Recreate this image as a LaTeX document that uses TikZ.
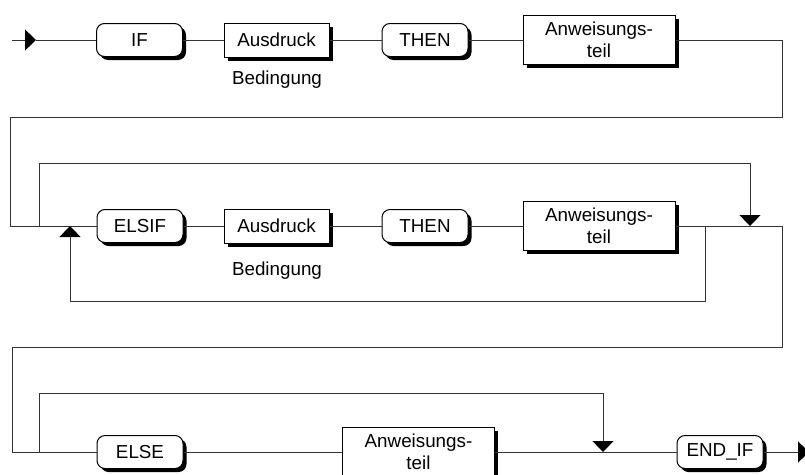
\documentclass[tikz,border=0pt]{standalone}
\usepackage{fontspec}
\setmainfont{Liberation Sans}
\usetikzlibrary{arrows.meta,shadows}
\begin{document}
\begin{tikzpicture}[x=1pt,y=-1pt,line width=1pt,
  font=\fontsize{18.8}{22}\selectfont,
  boxshadow/.style={drop shadow={shadow xshift=3.5pt,shadow yshift=-3.5pt,opacity=1,fill=black}},
  keyword/.style={draw,fill=white,rounded corners=8pt,minimum width=86pt,minimum height=33pt,inner sep=0pt,boxshadow},
  term/.style={draw,fill=white,minimum width=105pt,minimum height=34pt,inner sep=0pt,boxshadow},
  part/.style={draw,fill=white,align=center,minimum width=152pt,minimum height=49pt,inner sep=0pt,boxshadow},
  wire/.style={draw=black!80},
  flow/.style={wire,-{Triangle[length=11pt,width=21pt,color=black]}}]
\useasboundingbox (0,0) rectangle (805,474);

\node[keyword] (if) at (139.5,40) {IF};
\node[term] (cond1) at (276.5,40) {Ausdruck};
\node (lbl1) at (277,80) {Bedingung};
\node[keyword] (then1) at (425,40) {THEN};
\node[part] (stmt1) at (599,40) {Anweisungs-\\teil};

\node[keyword] (elsif) at (140,226) {ELSIF};
\node[term] (cond2) at (276.5,226) {Ausdruck};
\node (lbl2) at (277,271) {Bedingung};
\node[keyword] (then2) at (425,226) {THEN};
\node[part] (stmt2) at (599,226) {Anweisungs-\\teil};

\node[keyword] (else) at (140,452) {ELSE};
\node[part] (stmt3) at (418.5,452) {Anweisungs-\\teil};
\node[keyword] (endif) at (720,452) {END\_IF};

\coordinate (in) at (12,40);
\coordinate (entry) at (36,40);
\coordinate (turn1) at (782,117);
\coordinate (l2) at (10,226);
\coordinate (fork2) at (39,226);
\coordinate (top2) at (750,163);
\coordinate (join2) at (750,226);
\coordinate (loop2) at (705,226);
\coordinate (bot2) at (70,301);
\coordinate (back2) at (70,226);
\coordinate (turn2) at (782,347);
\coordinate (l3) at (12,452);
\coordinate (fork3) at (39,452);
\coordinate (top3) at (603,393);
\coordinate (join3) at (603,452);
\coordinate (out) at (809,452);

\draw[flow] (in)--(entry);
\draw[wire] (entry)--(if);
\draw[wire] (if)--(cond1);
\draw[wire] (cond1)--(then1);
\draw[wire] (then1)--(stmt1);
\draw[wire] (stmt1.east) -| (turn1) -| (l2);

\draw[wire] (l2)--(elsif);
\draw[wire] (elsif)--(cond2);
\draw[wire] (cond2)--(then2);
\draw[wire] (then2)--(stmt2);
\draw[flow] (fork2) |- (top2)--(join2);
\draw[flow] (loop2) |- (bot2)--(back2);
\draw[wire] (stmt2.east) -| (turn2) -| (l3);

\draw[wire] (l3)--(else);
\draw[wire] (else)--(stmt3);
\draw[wire] (stmt3)--(endif);
\draw[flow] (fork3) |- (top3)--(join3);
\draw[flow] (endif)--(out);
\end{tikzpicture}
\end{document}
